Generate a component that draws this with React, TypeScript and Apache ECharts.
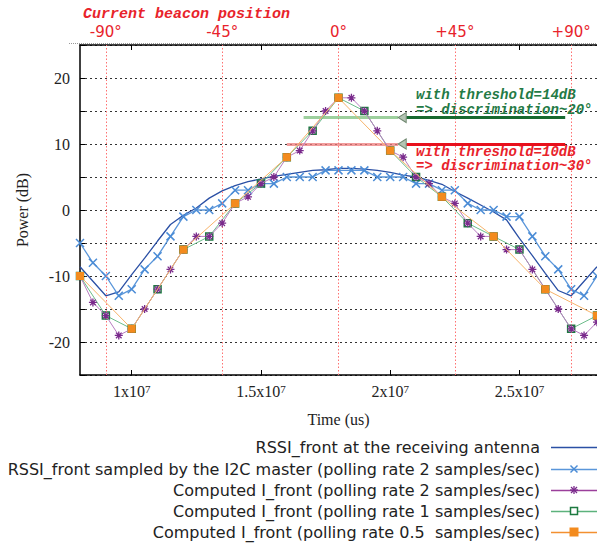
import React, { useEffect, useRef } from 'react';
import * as echarts from 'echarts';

// Sample times, in units of 1e6 us
const tHalf = [8, 8.5, 9, 9.5, 10, 10.5, 11, 11.5, 12, 12.5, 13, 13.5, 14, 14.5, 15, 15.5, 16, 16.5, 17, 17.5, 18, 18.5, 19, 19.5, 20, 20.5, 21, 21.5, 22, 22.5, 23, 23.5, 24, 24.5, 25, 25.5, 26, 26.5, 27, 27.5, 28];
const tOne = [8, 9, 10, 11, 12, 13, 14, 15, 16, 17, 18, 19, 20, 21, 22, 23, 24, 25, 26, 27, 28];
const tTwo = [8, 10, 12, 14, 16, 18, 20, 22, 24, 26, 28];

// Power (dB)
const rssiAntenna = [-8.6, -10.8, -13, -12.4, -9.8, -7.3, -4.7, -2.2, -0.8, 0.3, 1.8, 2.9, 3.7, 4.3, 4.7, 5.1, 5.4, 5.7, 6.0, 6.1, 6.3, 6.3, 6.2, 6.0, 5.7, 5.3, 5.0, 4.5, 3.9, 2.8, 1.8, 0.75, -0.3, -1.5, -4.3, -6.9, -9.6, -12.2, -13, -10.8, -8.6];
const rssiSampled = [-5, -8, -10, -13, -12, -9, -7, -4, -1, 0, 0, 1, 3, 3, 4, 4, 5, 5, 5, 6, 6, 6, 6, 5, 5, 5, 4, 4, 3, 3, 1, 0, 0, -1, -1, -4, -7, -9, -12, -13, -10];
const iFront2 = [-10, -14, -16, -19, -18, -15, -12, -9, -6, -4, -4, -2, 1, 2, 4, 5, 8, 9, 12, 15, 17, 17, 15, 12, 9, 8, 5, 4, 2, 1, -2, -4, -4, -6, -6, -9, -12, -15, -18, -19, -17];
const iFront1 = [-10, -16, -18, -12, -6, -4, 1, 4, 8, 12, 17, 15, 9, 5, 2, -2, -4, -6, -12, -18, -16];
const iFront05 = [-10, -18, -6, 1, 8, 17, 9, 2, -4, -12, -16];

const xTicks = [1e7, 1.5e7, 2e7, 2.5e7];
const degreeTicks = [-90, -45, 0, 45, 90];

const legendNames = [
  'RSSI_front at the receiving antenna',
  'RSSI_front sampled by the I2C master (polling rate 2 samples/sec)',
  'Computed I_front (polling rate 2 samples/sec)',
  'Computed I_front (polling rate 1 samples/sec)',
  'Computed I_front (polling rate 0.5  samples/sec)',
];

// Threshold annotations (time in us, level in dB)
const thr14 = { level: 14, lightFrom: 16.65e6, tip: 20.31e6, base: 20.62e6, darkTo: 26.77e6 };
const thr10 = { level: 10, lightFrom: 16.0e6, tip: 20.31e6, base: 20.62e6, darkTo: 26.77e6 };

const US = 1e6;
const pair = (ts: number[], vs: number[]) => ts.map((t, i) => [t * US, vs[i]]);
const degToTime = (d: number) => 1.8e7 + d * 1e5;
const timeToDeg = (t: number) => (t - 1.8e7) / 1e5;

const C = {
  dark: '#2b50a5',
  light: '#4b8cd6',
  lightLine: '#5a96da',
  purple: '#7a2a8c',
  purpleLine: '#b77cc0',
  green: '#1d7a40',
  greenLine: '#6cbc8a',
  orange: '#f38b1e',
  orangeLine: '#f7b36a',
  red: '#e8232b',
  annGreen: '#237a45',
};

const SERIF = '"Liberation Serif", "DejaVu Serif", serif';
const SANS = '"DejaVu Sans", sans-serif';
const MONO = '"Liberation Mono", "DejaVu Sans Mono", monospace';

function buildOption() {
  const legendX = 540;
  const rowY = [447, 469, 490, 511, 532];
  const lx1 = 551, lx2 = 597, mx = 574;
  const legendGraphics: any[] = [];
  const lineColors = [C.dark, C.lightLine, '#9b3f9b', '#5cb27c', '#f39030'];
  rowY.forEach((y, i) => {
    legendGraphics.push({
      type: 'text', x: legendX, y,
      style: { text: legendNames[i], fill: '#222', fontFamily: SANS, fontSize: 16, align: 'right', verticalAlign: 'middle' },
    });
    legendGraphics.push({
      type: 'line', shape: { x1: lx1, y1: y + 0.5, x2: lx2, y2: y + 0.5 },
      style: { stroke: lineColors[i], lineWidth: 1.3 },
    });
  });
  // markers
  const s = 3.5;
  legendGraphics.push({ type: 'line', shape: { x1: mx - s, y1: rowY[1] - s, x2: mx + s, y2: rowY[1] + s }, style: { stroke: C.light, lineWidth: 1.5 } });
  legendGraphics.push({ type: 'line', shape: { x1: mx - s, y1: rowY[1] + s, x2: mx + s, y2: rowY[1] - s }, style: { stroke: C.light, lineWidth: 1.5 } });
  const a = 4, b = 3;
  [[0, -a, 0, a], [-a, 0, a, 0], [-b, -b, b, b], [-b, b, b, -b]].forEach(([x1, y1, x2, y2]) => {
    legendGraphics.push({ type: 'line', shape: { x1: mx + x1, y1: rowY[2] + y1, x2: mx + x2, y2: rowY[2] + y2 }, style: { stroke: C.purple, lineWidth: 1.3 } });
  });
  legendGraphics.push({ type: 'rect', shape: { x: mx - 3.5, y: rowY[3] - 3.5, width: 7, height: 7 }, style: { fill: '#fff', stroke: C.green, lineWidth: 1.5 } });
  legendGraphics.push({ type: 'rect', shape: { x: mx - 4.5, y: rowY[4] - 4.5, width: 9, height: 9 }, style: { fill: C.orange } });

  const annStyle = { fontFamily: MONO, fontStyle: 'italic', fontWeight: 'bold', fontSize: 14, lineHeight: 14.5, align: 'left', verticalAlign: 'middle' };
  const annotations: any[] = [
    { type: 'text', x: 83, y: 14, style: { text: 'Current beacon position', fill: C.red, fontFamily: MONO, fontStyle: 'italic', fontWeight: 'bold', fontSize: 15, align: 'left', verticalAlign: 'middle' } },
    { type: 'text', x: 416, y: 102.5, style: { ...annStyle, text: 'with threshold=14dB\n=> discrimination~20°', fill: C.annGreen } },
    { type: 'text', x: 416, y: 159, style: { ...annStyle, text: 'with threshold=10dB\n=> discrimination~30°', fill: C.red } },
    { type: 'line', shape: { x1: 69, y1: 43.5, x2: 597, y2: 43.5 }, style: { stroke: '#999', lineWidth: 1, lineDash: [1, 1] } },
  ];

  const arrowLines = (thr: any, light: string, dark: string) => [
    [{ coord: [thr.lightFrom, thr.level], lineStyle: { color: light, width: 3, opacity: 0.75, type: 'solid' } }, { coord: [thr.tip, thr.level] }],
    [{ coord: [thr.darkTo, thr.level], lineStyle: { color: dark, width: 3, opacity: 1, type: 'solid' } }, { coord: [thr.base, thr.level] }],
  ];
  const arrowHead = (thr: any) => ({
    coord: [(thr.tip + thr.base) / 2, thr.level],
  });

  return {
    animation: false,
    backgroundColor: '#fff',
    grid: { left: 80, top: 45, right: -3, bottom: 171, containLabel: false },
    xAxis: [
      {
        type: 'value', min: 8e6, max: 28e6, position: 'bottom',
        axisLine: { show: true, onZero: false, lineStyle: { color: '#000', width: 1.5 } },
        axisTick: { show: true, inside: true, length: 5, customValues: xTicks, lineStyle: { color: '#000', width: 1 } },
        axisLabel: {
          customValues: xTicks, margin: 8,
          formatter: (v: number) => `{m|${v / 1e7}x10}{e|7}`,
          rich: {
            m: { fontFamily: SERIF, fontSize: 16, color: '#222', lineHeight: 16, verticalAlign: 'bottom', padding: [4, 0, 0, 0] },
            e: { fontFamily: SERIF, fontSize: 11, color: '#222', lineHeight: 11, verticalAlign: 'top' },
          },
        },
        splitLine: { show: false },
        name: 'Time (us)', nameLocation: 'middle', nameGap: 36,
        nameTextStyle: { fontFamily: SERIF, fontSize: 16, color: '#222' },
      },
      {
        type: 'value', min: timeToDeg(8e6), max: timeToDeg(28e6), position: 'top',
        axisLine: { show: true, onZero: false, lineStyle: { color: '#000', width: 1.5 } },
        axisTick: { show: true, inside: true, length: 5, customValues: xTicks.map(timeToDeg), lineStyle: { color: '#000', width: 1 } },
        axisLabel: {
          customValues: degreeTicks, margin: 6, color: C.red, fontFamily: SANS, fontSize: 15,
          formatter: (v: number) => (v > 0 ? '+' + v : String(v)) + '°',
        },
        splitLine: { show: false },
      },
    ],
    yAxis: {
      type: 'value', min: -25, max: 25, interval: 5,
      axisLine: { show: true, onZero: false, lineStyle: { color: '#000', width: 1.5 } },
      axisTick: { show: true, inside: true, length: 5, lineStyle: { color: '#000', width: 1 } },
      axisLabel: {
        margin: 10, fontFamily: SERIF, fontSize: 16, color: '#222',
        formatter: (v: number) => (v % 10 === 0 && Math.abs(v) < 25 ? String(v) : ''),
      },
      splitLine: { show: true, lineStyle: { color: '#333', width: 1, type: [2, 3] } },
      name: 'Power (dB)', nameLocation: 'middle', nameGap: 50, nameRotate: 90,
      nameTextStyle: { fontFamily: SERIF, fontSize: 16, color: '#222' },
    },
    series: [
      {
        type: 'line', name: legendNames[0], data: pair(tHalf, rssiAntenna), xAxisIndex: 0,
        symbol: 'none', lineStyle: { color: C.dark, width: 1.3 }, z: 2,
        markLine: {
          silent: true, symbol: ['none', 'none'], label: { show: false },
          lineStyle: { color: '#ff7070', width: 1, type: [1.5, 2] },
          data: degreeTicks.map((d) => ({ xAxis: degToTime(d) })),
        },
      },
      {
        type: 'line', name: legendNames[1], data: pair(tHalf, rssiSampled),
        symbol: 'path://M0,0L10,10M10,0L0,10', symbolSize: 8,
        itemStyle: { color: C.light, borderColor: C.light, borderWidth: 1.5 },
        lineStyle: { color: C.lightLine, width: 1.3 }, z: 3,
      },
      {
        type: 'line', name: legendNames[3], data: pair(tOne, iFront1),
        symbol: 'path://M0,0L10,0L10,10L0,10Z', symbolSize: 7,
        itemStyle: { color: 'rgba(0,0,0,0)', borderColor: C.green, borderWidth: 1.5 },
        lineStyle: { color: C.greenLine, width: 1 }, z: 4,
        markLine: {
          silent: true, symbol: ['none', 'none'], label: { show: false },
          data: [...arrowLines(thr14, '#7cc07c', '#17692f'), ...arrowLines(thr10, '#ee7b7b', '#e8101c')],
        },
        markPoint: {
          silent: true, symbol: 'triangle', symbolSize: [10, 8], symbolRotate: 90,
          label: { show: false },
          itemStyle: { color: '#b4c4b4', borderColor: '#708870', borderWidth: 1 },
          data: [arrowHead(thr14), arrowHead(thr10)],
        },
      },
      {
        type: 'line', name: legendNames[2], data: pair(tHalf, iFront2),
        symbol: 'path://M5,0L5,10M0,5L10,5M1.5,1.5L8.5,8.5M8.5,1.5L1.5,8.5', symbolSize: 8,
        itemStyle: { color: C.purple, borderColor: C.purple, borderWidth: 1.3 },
        lineStyle: { color: C.purpleLine, width: 1 }, z: 5,
      },
      {
        type: 'line', name: legendNames[4], data: pair(tTwo, iFront05),
        symbol: 'rect', symbolSize: 8,
        itemStyle: { color: C.orange },
        lineStyle: { color: C.orangeLine, width: 1 }, z: 6,
      },
    ],
    graphic: [...annotations, ...legendGraphics],
  };
}

export default function App() {
  const ref = useRef<HTMLDivElement>(null);
  useEffect(() => {
    const chart = echarts.init(ref.current!, null, { renderer: 'svg' });
    chart.setOption(buildOption() as any);
    return () => chart.dispose();
  }, []);
  return (
    <div
      ref={ref}
      style={{ position: 'fixed', left: 0, top: 0, width: 597, height: 546, background: '#fff' }}
    />
  );
}
